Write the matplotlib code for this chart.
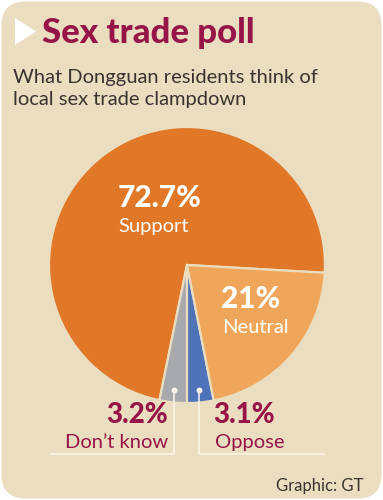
import matplotlib.pyplot as plt
import numpy as np
from matplotlib.patches import FancyBboxPatch, Polygon

# poll data
labels = ['Support', "Don\u2019t know", 'Oppose', 'Neutral']
values = [72.7, 3.2, 3.1, 21.0]
pct_text = ['72.7%', '3.2%', '3.1%', '21%']

colors = ['#E07828', '#A7A9AD', '#4E73B9', '#EFA65A']
explode = [0.035, 0, 0, 0.012]
bg = '#EADDC0'
red = '#961447'
dark = '#3A3330'

W, H = 383, 500
fig = plt.figure(figsize=(W / 100, H / 100), dpi=100)
ax = fig.add_axes([0, 0, 1, 1])
ax.set_xlim(0, W)
ax.set_ylim(0, H)
ax.axis('off')


def Y(py):
    # pixel row -> data y
    return H - py


ax.add_patch(FancyBboxPatch((1.5, 1.5), W - 3, H - 3,
                            boxstyle='round,pad=0,rounding_size=24',
                            fc=bg, ec='none', zorder=0))
ax.add_patch(Polygon([(15, Y(18)), (15, Y(45)), (36, Y(31.5))],
                     closed=True, fc='white', ec='none', zorder=1))

ax.text(42, Y(43), 'Sex trade poll', fontsize=25, fontweight='black',
        family='Lato', color=red, va='baseline', ha='left')
ax.text(13, Y(83), 'What Dongguan residents think of', fontsize=14.5,
        family='Lato', color=dark, va='baseline', ha='left')
ax.text(13, Y(105), 'local sex trade clampdown', fontsize=14.5,
        family='Lato', color=dark, va='baseline', ha='left')

cx, cy, r = 187, Y(265), 138
start = 270 - (values[0] + values[1]) * 3.6
wedges, _ = ax.pie(values, colors=colors, explode=explode, startangle=start,
                   center=(cx, cy), radius=r, frame=True,
                   wedgeprops=dict(edgecolor=bg, linewidth=1.6))
ax.set_xlim(0, W)
ax.set_ylim(0, H)
ax.axis('off')

# leader lines from the two thin slices
line_y = Y(454)
for w, x_end in zip(wedges[1:3], [50, 325]):
    mid = np.deg2rad((w.theta1 + w.theta2) / 2)
    dx = cx + 0.91 * r * np.cos(mid)
    dy = cy + 0.91 * r * np.sin(mid)
    ax.plot([dx, dx, x_end], [dy, line_y, line_y], color='#FBF6EC', lw=1.1,
            solid_capstyle='butt', zorder=5)
    ax.plot(dx, dy, 'o', color='#FBF6EC', ms=3.2, zorder=6)

# labels inside
ax.text(118, Y(207), pct_text[0], fontsize=21.5, fontweight='black',
        family='Lato', color='white', va='baseline')
ax.text(118, Y(232), labels[0], fontsize=14.5, family='Lato',
        color='white', va='baseline')
ax.text(221, Y(308), pct_text[3], fontsize=21.5, fontweight='black',
        family='Lato', color='white', va='baseline')
ax.text(222, Y(333), labels[3], fontsize=14.5, family='Lato',
        color='white', va='baseline')

# labels outside
ax.text(168, Y(423), pct_text[1], fontsize=20, fontweight='black',
        family='Lato', color=red, va='baseline', ha='right')
ax.text(168, Y(448), labels[1], fontsize=14.5, family='Lato',
        color=red, va='baseline', ha='right')
ax.text(213, Y(423), pct_text[2], fontsize=20, fontweight='black',
        family='Lato', color=red, va='baseline', ha='left')
ax.text(215, Y(448), labels[2], fontsize=14.5, family='Lato',
        color=red, va='baseline', ha='left')

ax.text(363, Y(491), 'Graphic: GT', fontsize=12, family='Lato',
        color=dark, va='baseline', ha='right')

fig.savefig('out.png', dpi=100, facecolor='white')
